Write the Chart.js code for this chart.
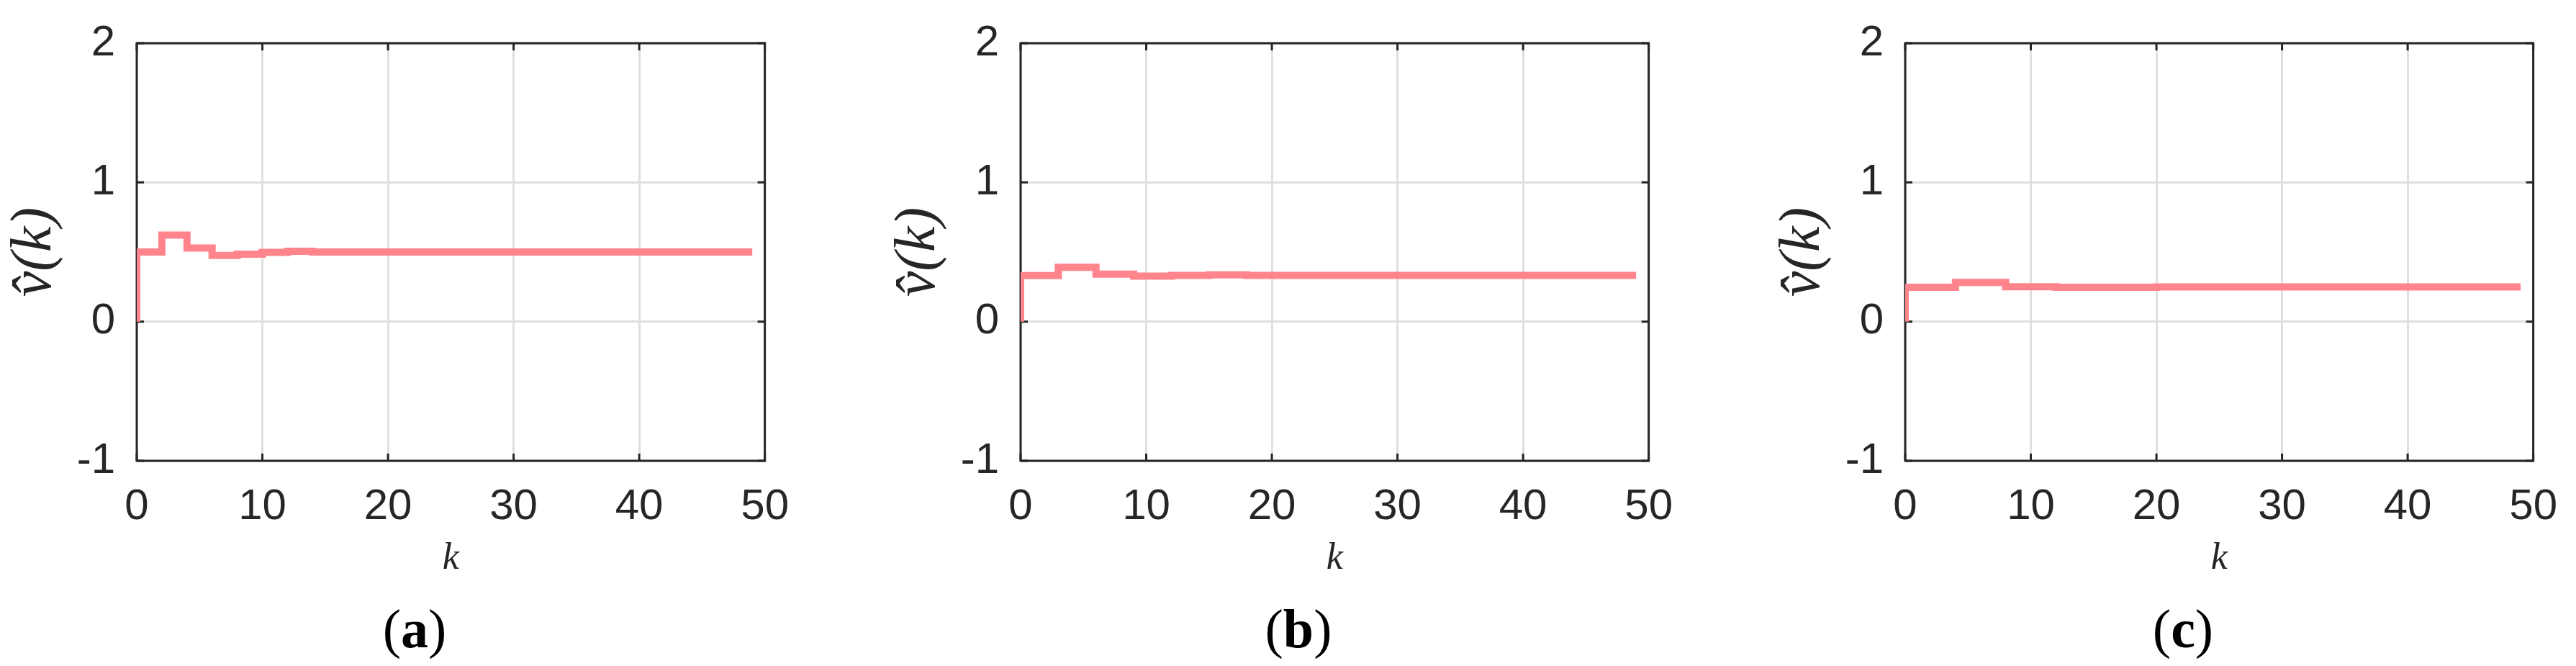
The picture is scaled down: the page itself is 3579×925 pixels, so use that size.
<!DOCTYPE html>
<html>
<head>
<meta charset="utf-8">
<script src="https://cdn.jsdelivr.net/npm/chart.js@4"></script>
<style>
  html, body { margin: 0; padding: 0; background: #fff; }
  body { width: 3579px; height: 925px; position: relative; overflow: hidden; }
  .panel { position: absolute; top: 0; width: 1130px; height: 925px; }
  .cap { position: absolute; top: 873px; transform: translate(-50%, -50%); font: 76px 'Liberation Serif', serif; color: #000; white-space: nowrap; }
</style>
</head>
<body>
<div class="panel" style="left:0px"><canvas id="chA"></canvas></div>
<div class="panel" style="left:1228px"><canvas id="chB"></canvas></div>
<div class="panel" style="left:2457px"><canvas id="chC"></canvas></div>
<div class="cap" style="left:576px">(<b>a</b>)</div>
<div class="cap" style="left:1804px">(<b>b</b>)</div>
<div class="cap" style="left:3033px">(<b>c</b>)</div>
<script>
// step estimates (k where the value changes, value held after it)
const kA = [0, 0, 2, 4, 6, 8, 10, 12, 14, 49];
const vA = [0, 0.5, 0.622, 0.528, 0.475, 0.484, 0.498, 0.505, 0.5, 0.5];

const kB = [0, 0, 3, 6, 9, 12, 15, 18, 49];
const vB = [0, 0.331, 0.39, 0.341, 0.327, 0.332, 0.336, 0.332, 0.332];

const kC = [0, 0, 4, 8, 12, 20, 49];
const vC = [0, 0.247, 0.282, 0.251, 0.246, 0.249, 0.249];

const xTicks = [0, 10, 20, 30, 40, 50];
const yTicks = [-1, 0, 1, 2];

const ink = '#262626';
const lineColor = '#ff848c';

// matlab style box with inward ticks, drawn under the line
const boxPlugin = {
  id: 'box',
  beforeDatasetsDraw(chart) {
    const { ctx, chartArea: a, scales: { x, y } } = chart;
    ctx.save();
    ctx.strokeStyle = ink;
    ctx.lineWidth = 3;
    ctx.beginPath();
    xTicks.forEach(v => {
      const px = x.getPixelForValue(v);
      ctx.moveTo(px, a.bottom); ctx.lineTo(px, a.bottom - 10);
      ctx.moveTo(px, a.top); ctx.lineTo(px, a.top + 10);
    });
    yTicks.forEach(v => {
      const py = y.getPixelForValue(v);
      ctx.moveTo(a.left, py); ctx.lineTo(a.left + 10, py);
      ctx.moveTo(a.right, py); ctx.lineTo(a.right - 10, py);
    });
    ctx.stroke();
    ctx.strokeRect(a.left, a.top, a.right - a.left, a.bottom - a.top);
    ctx.restore();
  }
};

function makeChart(id, ks, vs) {
  const pts = ks.map((k, i) => ({ x: k, y: vs[i] }));
  return new Chart(document.getElementById(id), {
    type: 'line',
    data: {
      datasets: [{
        data: pts,
        stepped: true,
        borderColor: lineColor,
        borderWidth: 10,
        borderCapStyle: 'butt',
        borderJoinStyle: 'miter',
        pointRadius: 0,
        fill: false
      }]
    },
    options: {
      responsive: true,
      maintainAspectRatio: false,
      animation: false,
      layout: { padding: { top: 34, right: 52, left: 0, bottom: 0 } },
      plugins: { legend: { display: false }, tooltip: { enabled: false } },
      scales: {
        x: {
          type: 'linear',
          min: 0, max: 50,
          afterBuildTicks: s => { s.ticks = xTicks.map(v => ({ value: v })); },
          afterFit: s => { s.height = 285; },
          ticks: { color: ink, padding: 34, maxRotation: 0, font: { family: 'Liberation Sans', size: 60, lineHeight: 1 } },
          grid: { color: '#dfdfdf', lineWidth: 3, drawTicks: false },
          border: { display: false },
          title: { display: true, text: 'k', color: ink, padding: { top: 0, bottom: 117 },
            font: { family: 'Liberation Serif', style: 'italic', size: 52 } }
        },
        y: {
          min: -1, max: 2,
          afterBuildTicks: s => { s.ticks = yTicks.map(v => ({ value: v })); },
          afterFit: s => { s.width = 190; },
          ticks: { color: ink, padding: 30, font: { family: 'Liberation Sans', size: 60, lineHeight: 1 } },
          grid: { color: '#dfdfdf', lineWidth: 3, drawTicks: false },
          border: { display: false },
          title: { display: true, text: 'v\u0302(k)', color: ink, padding: { top: 1, bottom: 0 },
            font: { family: 'Liberation Serif', style: 'italic', size: 80 } }
        }
      }
    },
    plugins: [boxPlugin]
  });
}

makeChart('chA', kA, vA);
makeChart('chB', kB, vB);
makeChart('chC', kC, vC);
</script>
</body>
</html>
